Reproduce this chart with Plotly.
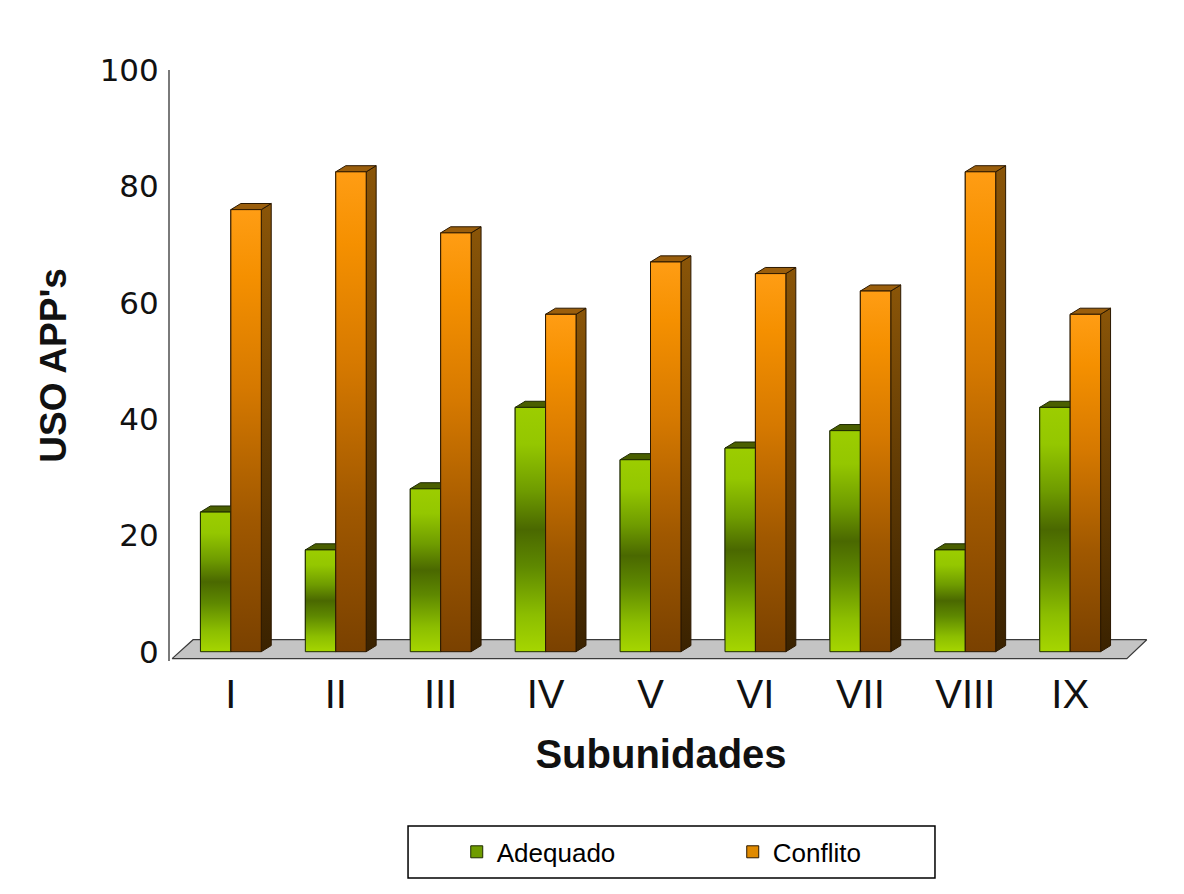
import plotly.graph_objects as go

# ---------------- data ----------------
categories = ["I", "II", "III", "IV", "V", "VI", "VII", "VIII", "IX"]
adequado = [24, 17.5, 28, 42, 33, 35, 38, 17.5, 42]
conflito = [76, 82.5, 72, 58, 67, 65, 62, 82.5, 58]
y_ticks = [0, 20, 40, 60, 80, 100]

# ---------------- style ----------------
FONT = "Liberation Sans, Arial, sans-serif"
BAR_W = 0.29          # width of each bar (x units)
DX, DY = 0.095, 1.05  # pseudo-3D depth offsets (x units, y units)
X_RANGE = [-0.58, 8.78]
Y_RANGE = [-1.6, 100]

GREEN_SCALE = [[0.0, "#a6d600"], [0.15, "#8cbe00"], [0.35, "#5e8800"], [0.5, "#4a6800"],
               [0.66, "#6f9c00"], [0.85, "#94c700"], [1.0, "#9ccd00"]]
ORANGE_SCALE = [[0.0, "#7a4100"], [0.3, "#a05800"], [0.6, "#d67900"], [0.85, "#f59000"],
                [1.0, "#ff9d14"]]
GREEN_SIDE = [[0.0, "#2f4200"], [1.0, "#4d6400"]]
ORANGE_SIDE = [[0.0, "#3a2200"], [1.0, "#8a5508"]]
GREEN_TOP = "#4a5f00"
ORANGE_TOP = "#9a5e0c"
GREEN_EDGE = "#1e2a00"
ORANGE_EDGE = "#2b1800"

x = list(range(len(categories)))

fig = go.Figure()

# base bars (also provide legend entries)
fig.add_trace(go.Bar(x=x, y=adequado, name="Adequado", width=BAR_W, offset=-BAR_W,
                     marker=dict(color="#6f9c00", line=dict(color=GREEN_EDGE, width=1)),
                     hoverinfo="skip"))
fig.add_trace(go.Bar(x=x, y=conflito, name="Conflito", width=BAR_W, offset=0,
                     marker=dict(color="#e08a00", line=dict(color=ORANGE_EDGE, width=1)),
                     hoverinfo="skip"))

# floor
fl_x = [X_RANGE[0] + 0.02, X_RANGE[0] + 0.22, 8.73, 8.54, X_RANGE[0] + 0.02]
fl_y = [-1.2, 2.06, 2.06, -1.2, -1.2]
fig.add_trace(go.Scatter(x=fl_x, y=fl_y, mode="lines", fill="toself", fillcolor="#c4c4c4",
                         line=dict(color="#3a3a3a", width=1.2), showlegend=False,
                         hoverinfo="skip"))


def poly(xs, ys, **kw):
    fig.add_trace(go.Scatter(x=xs + [xs[0]], y=ys + [ys[0]], mode="lines", fill="toself",
                             showlegend=False, hoverinfo="skip", **kw))


series = [
    (adequado, -BAR_W, GREEN_SCALE, GREEN_SIDE, GREEN_TOP, GREEN_EDGE),
    (conflito, 0.0, ORANGE_SCALE, ORANGE_SIDE, ORANGE_TOP, ORANGE_EDGE),
]

# sides and tops first
for vals, off, scale, side, top, edge in series:
    for xi, v in zip(x, vals):
        l = xi + off
        r = l + BAR_W
        # right side face
        poly([r, r + DX, r + DX, r], [0, DY, v + DY, v],
             line=dict(color=edge, width=1),
             fillgradient=dict(type="vertical", colorscale=side, start=0, stop=v + DY))
        # top face
        poly([l, l + DX, r + DX, r], [v, v + DY, v + DY, v],
             line=dict(color=edge, width=1), fillcolor=top)

# front faces with gradient
for vals, off, scale, side, top, edge in series:
    for xi, v in zip(x, vals):
        l = xi + off
        r = l + BAR_W
        poly([l, r, r, l], [0, 0, v, v],
             line=dict(color=edge, width=1),
             fillgradient=dict(type="vertical", colorscale=scale, start=0, stop=v))

# legend frame
fig.add_shape(type="rect", xref="paper", yref="paper", x0=0.2424, x1=0.779, y0=-0.367, y1=-0.279,
              line=dict(color="#000000", width=1.5), fillcolor="rgba(0,0,0,0)")

fig.update_layout(
    width=1176, height=886,
    margin=dict(l=162, r=32, t=62, b=233),
    paper_bgcolor="white", plot_bgcolor="white",
    barmode="overlay",
    font=dict(family=FONT, color="#000000"),
    showlegend=True,
    legend=dict(orientation="h", x=0.292, xanchor="left", y=-0.323, yanchor="middle",
                bgcolor="rgba(0,0,0,0)", borderwidth=0,
                font=dict(family=FONT, size=26, color="#000000"),
                entrywidth=231, entrywidthmode="pixels", traceorder="normal"),
    xaxis=dict(range=X_RANGE, tickvals=x, ticktext=categories, showgrid=False, zeroline=False,
               showline=False, ticks="", ticklabelstandoff=6,
               tickfont=dict(family=FONT, size=40, color="#111111"),
               title=dict(text="<b>Subunidades</b>", standoff=24,
                          font=dict(family=FONT, size=40, color="#111111"))),
    yaxis=dict(range=Y_RANGE, tickvals=y_ticks, showgrid=False, zeroline=False,
               showline=True, linecolor="#7a7a7a", linewidth=2, ticks="",
               ticklabelstandoff=3,
               tickfont=dict(family="DejaVu Sans, sans-serif", size=31, color="#111111"),
               title=dict(text="<b>USO APP's</b>", standoff=22,
                          font=dict(family=FONT, size=37, color="#111111"))),
)

fig.write_html("out.html")
